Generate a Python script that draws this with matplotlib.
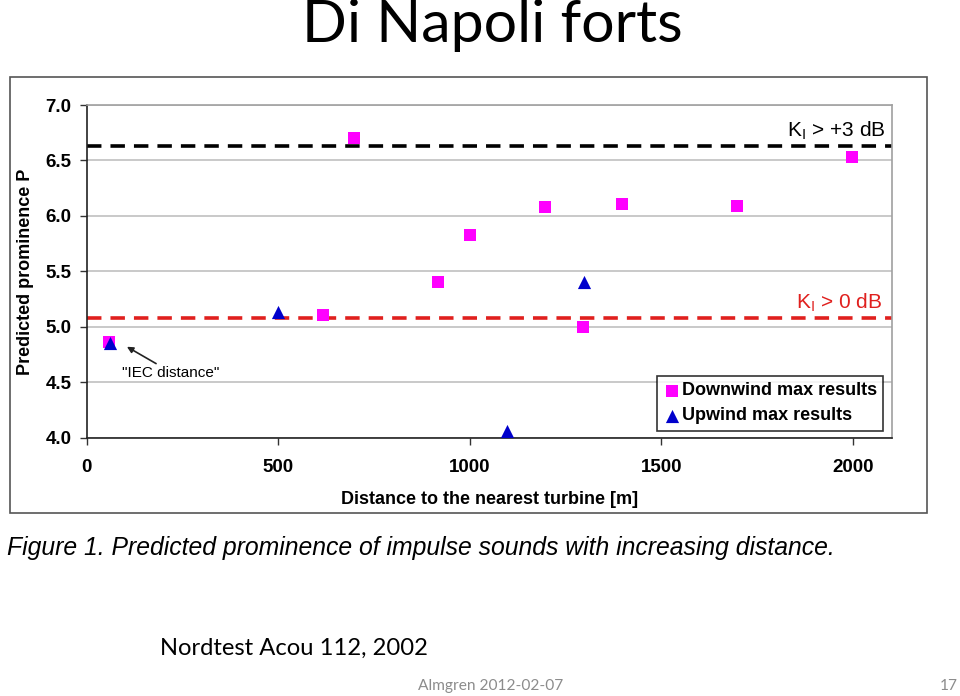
import matplotlib
matplotlib.use("Agg")
import matplotlib.pyplot as plt
from matplotlib.patches import Rectangle

# Data
down_x = [58, 616, 698, 918, 1000, 1196, 1297, 1398, 1698, 1998]
down_y = [4.86, 5.11, 6.70, 5.40, 5.83, 6.08, 5.00, 6.11, 6.09, 6.53]
up_x = [60, 500, 1098, 1299]
up_y = [4.85, 5.13, 4.06, 5.40]
ki3_level = 6.63
ki0_level = 5.08
x_ticks = [0, 500, 1000, 1500, 2000]
y_ticks = [4.0, 4.5, 5.0, 5.5, 6.0, 6.5, 7.0]

W, H = 960, 696
fig = plt.figure(figsize=(9.6, 6.96), dpi=100)
fig.patch.set_facecolor("white")

def fx(px):
    return px / W

def fy(py):
    return 1 - py / H

# outer chart frame
fig.patches.append(Rectangle((fx(10), fy(513)), fx(927) - fx(10), fy(77) - fy(513),
                             transform=fig.transFigure, fill=False,
                             edgecolor="#555555", linewidth=1.2, zorder=0))

ax = fig.add_axes([fx(86.7), fy(437.7), fx(891.7) - fx(86.7), fy(105) - fy(437.7)])
ax.set_xlim(0, 2102)
ax.set_ylim(4.0, 7.0)
ax.set_xticks(x_ticks)
ax.set_yticks(y_ticks)
ax.set_xticklabels([str(v) for v in x_ticks])
ax.set_yticklabels([f"{v:.1f}" for v in y_ticks])
for lab in ax.get_xticklabels() + ax.get_yticklabels():
    lab.set_fontfamily("Liberation Sans")
    lab.set_fontweight("bold")
    lab.set_fontsize(13.5)
ax.tick_params(axis="x", direction="out", length=5, width=1, pad=10, color="#333333")
ax.tick_params(axis="y", direction="out", length=5, width=1, pad=6, color="#333333")
ax.grid(axis="y", color="#c0c0c0", linewidth=1.2)
ax.set_axisbelow(True)
for s in ["top", "right"]:
    ax.spines[s].set_color("#a0a0a0")
    ax.spines[s].set_linewidth(1.2)
for s in ["left", "bottom"]:
    ax.spines[s].set_color("#222222")
    ax.spines[s].set_linewidth(1.2)

ax.axhline(ki3_level, color="black", linestyle=(0, (4, 2.5)), linewidth=2.6, zorder=2)
ax.axhline(ki0_level, color="#e0201e", linestyle=(0, (4, 2.5)), linewidth=2.6, zorder=2)

ax.scatter(down_x, down_y, marker="s", s=75, color="#ff00ff", zorder=3,
           label="Downwind max results", linewidths=0)
ax.scatter(up_x, up_y, marker="^", s=90, color="#0000cc", zorder=4,
           label="Upwind max results", linewidths=0)

ax.text(2085, ki3_level + 0.035, r"K$_{\mathregular{I}}$ > +3 dB", ha="right", va="bottom",
        fontsize=15, fontfamily="Liberation Sans", color="black")
ax.text(2078, ki0_level + 0.035, r"K$_{\mathregular{I}}$ > 0 dB", ha="right", va="bottom",
        fontsize=15, fontfamily="Liberation Sans", color="#e0201e")

ax.annotate('"IEC distance"', xy=(105, 4.82), xytext=(92, 4.58),
            fontsize=11, fontfamily="Liberation Sans", ha="left", va="center",
            arrowprops=dict(arrowstyle="-|>", color="#222222", lw=1.2,
                            shrinkA=0, shrinkB=0, mutation_scale=9,
                            relpos=(0.4, 1.0)))

leg = ax.legend(loc="lower right", bbox_to_anchor=(0.9895, 0.021), borderaxespad=0,
                frameon=True, fancybox=False, edgecolor="black", handletextpad=0.1,
                handlelength=0.9, borderpad=0.35, labelspacing=0.45,
                prop={"family": "Liberation Sans", "weight": "bold", "size": 13.0})
leg.get_frame().set_linewidth(1.2)

ax.set_xlabel("Distance to the nearest turbine [m]", fontfamily="Liberation Sans",
              fontweight="bold", fontsize=13, labelpad=11)
ax.set_ylabel("Predicted prominence P", fontfamily="Liberation Sans",
              fontweight="bold", fontsize=13, labelpad=8)

fig.text(fx(492), fy(26), "Di Napoli forts", ha="center", va="center",
         fontfamily="Lato", fontsize=42.5, color="black")
fig.text(fx(7), fy(548), "Figure 1. Predicted prominence of impulse sounds with increasing distance.",
         ha="left", va="center", fontfamily="Liberation Sans", fontstyle="italic",
         fontsize=17.8, color="black")
fig.text(fx(160), fy(648), "Nordtest Acou 112, 2002", ha="left", va="center",
         fontfamily="Lato", fontsize=17.1, color="black")
fig.text(fx(491), fy(686), "Almgren 2012-02-07", ha="center", va="center",
         fontfamily="Lato", fontsize=11.2, color="#8c8c8c")
fig.text(fx(958), fy(686), "17", ha="right", va="center",
         fontfamily="Lato", fontsize=11.2, color="#8c8c8c")

fig.savefig("out.png", dpi=100, facecolor="white")
